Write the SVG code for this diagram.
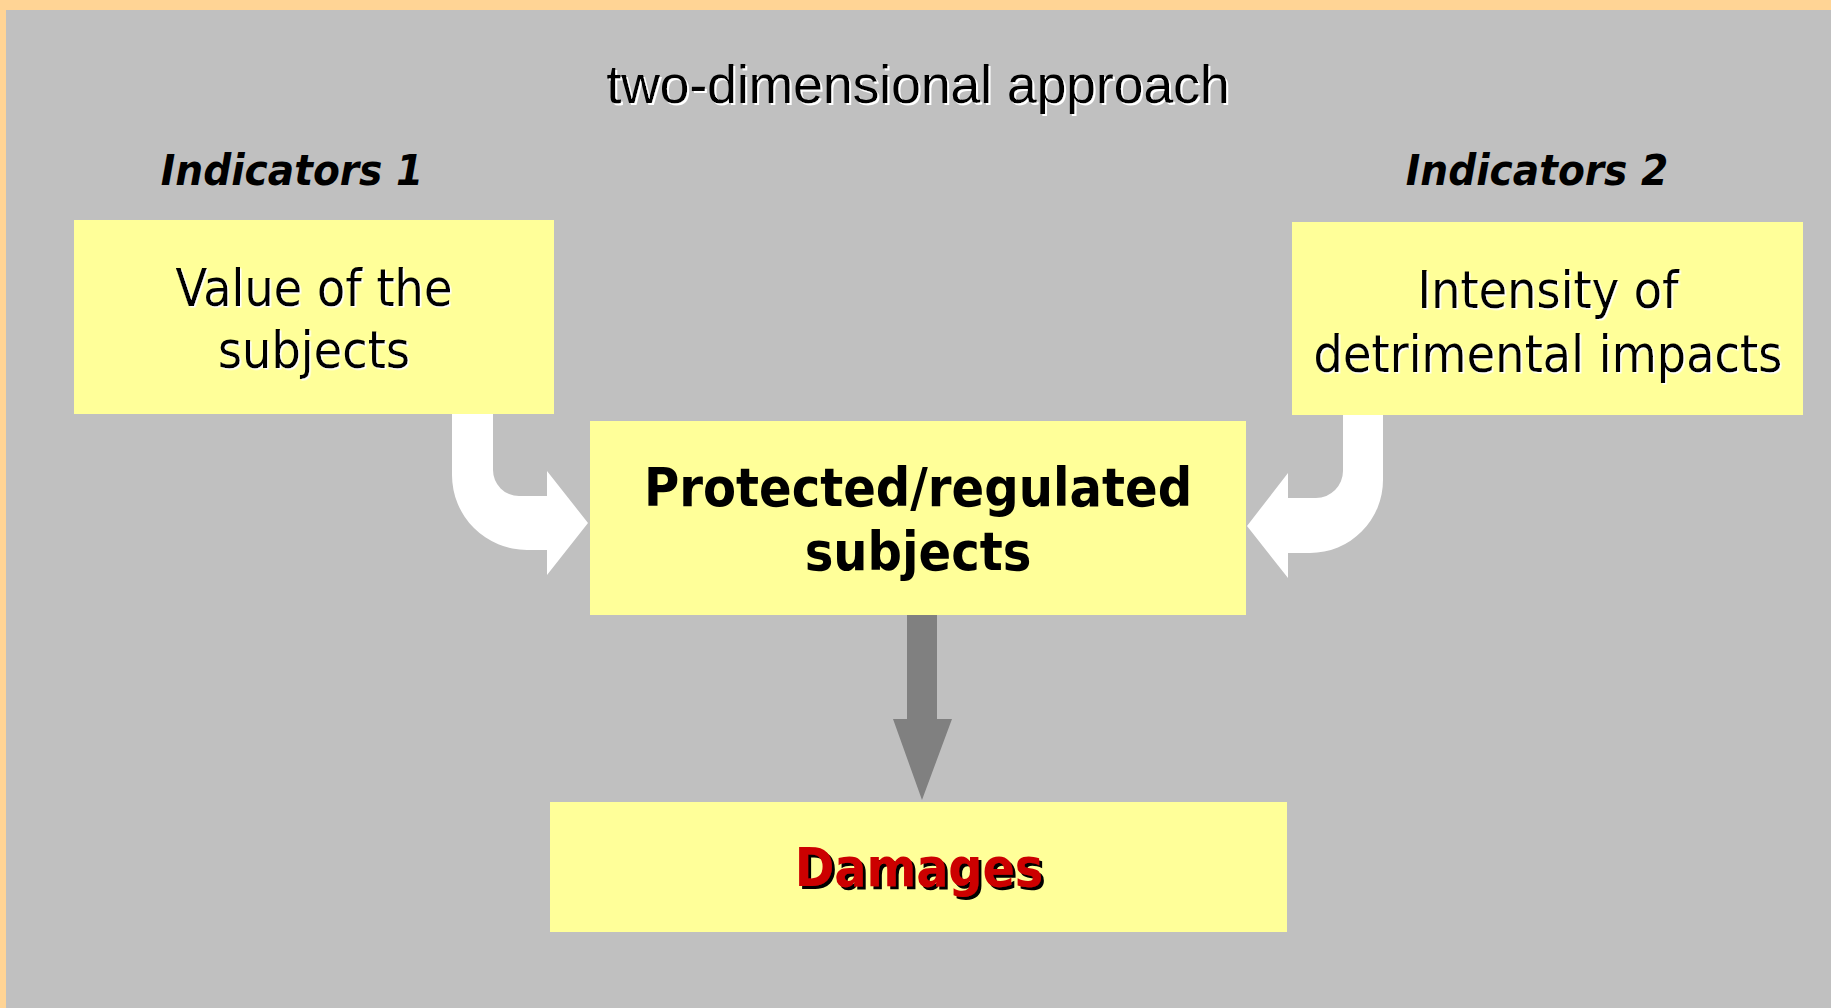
<svg xmlns="http://www.w3.org/2000/svg" width="1831" height="1008" viewBox="0 0 1831 1008">
  <defs>
    <style>
      .box { fill: #FFFF99; }
      .body { font-family: "DejaVu Sans Condensed", "DejaVu Sans", sans-serif; font-stretch: condensed; fill: #000; text-anchor: middle; }
      .reg { font-size: 51.5px; filter: url(#whiteShadow); }
      .bold { font-size: 53.5px; font-weight: bold; }
      .ind { font-size: 43.5px; font-weight: bold; font-style: italic; }
      .title { font-family: "Liberation Sans", Arial, sans-serif; font-size: 53.4px; fill: #000; text-anchor: middle; filter: url(#titleShadow); }
      .dmg { font-size: 53px; fill: #CC0000; filter: url(#blackShadow); }
      .bend { fill: #FFFFFF; }
      .drop { fill: #808080; }
    </style>
    <filter id="whiteShadow" x="-5%" y="-20%" width="110%" height="140%">
      <feDropShadow dx="1.5" dy="1.5" stdDeviation="0" flood-color="#FFFFFF" flood-opacity="1"/>
    </filter>
    <filter id="titleShadow" x="-5%" y="-20%" width="110%" height="140%">
      <feDropShadow dx="2" dy="2" stdDeviation="0" flood-color="#FFFFFF" flood-opacity="1"/>
    </filter>
    <filter id="blackShadow" x="-5%" y="-20%" width="110%" height="140%">
      <feDropShadow dx="3" dy="3" stdDeviation="0" flood-color="#000000" flood-opacity="1"/>
    </filter>
  </defs>

  <!-- page background with orange frame along top and left -->
  <rect x="0" y="0" width="1831" height="1008" fill="#FFD495"/>
  <rect x="6" y="10" width="1825" height="998" fill="#C0C0C0"/>

  <text class="title" x="918" y="103">two-dimensional approach</text>
  <text class="body ind" x="292" y="185">Indicators 1</text>
  <text class="body ind" x="1537" y="185">Indicators 2</text>

  <!-- connectors -->
  <g id="connectors">
    <path id="arrow-value" class="bend" d="M 452 414 L 493 414 L 493 470 A 26 26 0 0 0 519 496 L 547 496 L 547 471 L 588 523 L 547 575 L 547 550 L 527 550 A 75 75 0 0 1 452 475 Z"/>
    <path id="arrow-intensity" class="bend" d="M 1383 415 L 1343 415 L 1343 471 A 27 27 0 0 1 1316 498 L 1288 498 L 1288 473 L 1247 526 L 1288 578 L 1288 553 L 1310 553 A 73 73 0 0 0 1383 480 Z"/>
    <path id="arrow-damages" class="drop" d="M 907 615 L 937 615 L 937 719 L 952 719 L 922 800 L 893 719 L 907 719 Z"/>
  </g>

  <g id="node-value">
    <rect class="box" x="74" y="220" width="480" height="194"/>
    <text class="body reg" x="314" y="306">Value of the</text>
    <text class="body reg" x="314" y="368">subjects</text>
  </g>

  <g id="node-intensity">
    <rect class="box" x="1292" y="222" width="511" height="193"/>
    <text class="body reg" x="1548" y="308">Intensity of</text>
    <text class="body reg" x="1548" y="372">detrimental impacts</text>
  </g>

  <g id="node-protected">
    <rect class="box" x="590" y="421" width="656" height="194"/>
    <text class="body bold" x="918" y="506">Protected/regulated</text>
    <text class="body bold" x="918" y="570">subjects</text>
  </g>

  <g id="node-damages">
    <rect class="box" x="550" y="802" width="737" height="130"/>
    <text class="body bold dmg" x="919" y="886">Damages</text>
  </g>
</svg>
